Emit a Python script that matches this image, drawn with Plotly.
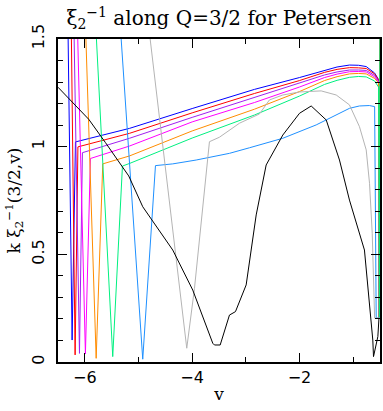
import plotly.graph_objects as go

blue_v = [-6.311, -6.237, -6.175, -5.167, -4.0, -2.839, -2.0, -1.534, -1.3, -1.069, -0.9, -0.757, -0.60, -0.527, -0.513, -0.502]
blue_y = [1.5, 0.102, 1.022, 1.085, 1.177, 1.266, 1.321, 1.356, 1.370, 1.379, 1.378, 1.372, 1.342, 1.312, 0.2, 1.6]

red_v = [-6.25, -6.181, -6.129, -5.167, -4.0, -2.839, -2.0, -1.534, -1.3, -1.069, -0.9, -0.757, -0.60, -0.527, -0.513, -0.502]
red_y = [1.5, 0.033, 0.999, 1.062, 1.157, 1.247, 1.307, 1.345, 1.359, 1.367, 1.366, 1.363, 1.338, 1.310, 0.2, 1.6]

purple_v = [-6.199, -6.10, -6.045, -5.167, -4.0, -2.839, -2.0, -1.534, -1.3, -1.069, -0.9, -0.757, -0.60, -0.527, -0.513, -0.502]
purple_y = [1.5, 0.040, 0.972, 1.039, 1.136, 1.229, 1.293, 1.333, 1.347, 1.356, 1.356, 1.354, 1.331, 1.305, 0.2, 1.6]

magenta_v = [-6.132, -5.989, -5.896, -5.167, -4.0, -2.839, -2.0, -1.534, -1.3, -1.069, -0.9, -0.757, -0.60, -0.527, -0.513, -0.502]
magenta_y = [1.5, 0.037, 0.945, 1.003, 1.115, 1.205, 1.277, 1.321, 1.337, 1.348, 1.349, 1.347, 1.324, 1.300, 0.2, 1.6]

orange_v = [-5.98, -5.789, -5.666, -5.167, -4.0, -2.839, -2.0, -1.534, -1.3, -1.069, -0.9, -0.757, -0.60, -0.527, -0.513, -0.502]
orange_y = [1.5, 0.017, 0.920, 0.957, 1.073, 1.174, 1.256, 1.307, 1.325, 1.338, 1.340, 1.338, 1.317, 1.296, 0.2, 1.6]

green_v = [-5.784, -5.48, -5.299, -5.167, -4.0, -2.839, -2.0, -1.534, -1.3, -1.069, -0.9, -0.757, -0.60, -0.527, -0.513, -0.502]
green_y = [1.5, 0.025, 0.910, 0.922, 1.040, 1.147, 1.235, 1.289, 1.308, 1.322, 1.326, 1.324, 1.305, 1.277, 0.2, 1.6]

dodger_v = [-5.323, -4.921, -4.684, -4.362, -3.925, -3.305, -2.93, -2.311, -1.689, -1.069, -0.884, -0.698, -0.60, -0.571, -0.5]
dodger_y = [1.5, 0.013, 0.912, 0.920, 0.938, 0.969, 0.995, 1.039, 1.101, 1.178, 1.189, 1.191, 1.186, 0.204, 0.204]

gray_v = [-4.783, -4.101, -3.957, -3.678, -3.491, -3.118, -2.746, -2.56, -2.311, -2.0, -1.596, -1.316, -1.069, -0.883, -0.757, -0.695, -0.645, -0.621, -0.60, -0.5]
gray_y = [1.5, 0.064, 0.342, 1.023, 1.044, 1.109, 1.152, 1.217, 1.240, 1.254, 1.259, 1.240, 1.194, 1.093, 0.985, 0.830, 0.598, 0.366, 0.204, 0.204]

black_v = [-6.5, -6.2, -5.927, -5.616, -5.182, -4.921, -4.362, -3.989, -3.616, -3.584, -3.478, -3.305, -3.193, -2.994, -2.807, -2.621,
           -2.311, -2.0, -1.782, -1.502, -1.255, -1.069, -0.790, -0.634, -0.621, -0.54, -0.52]
black_y = [1.276, 1.20, 1.127, 1.019, 0.864, 0.721, 0.520, 0.334, 0.087, 0.079, 0.079, 0.218, 0.234, 0.358, 0.683, 0.915,
           1.054, 1.155, 1.189, 1.124, 0.938, 0.752, 0.520, 0.102, 0.025, 0.118, 0.2]

series = [
    (blue_v, blue_y, "#0000ff"),
    (red_v, red_y, "#ff0000"),
    (purple_v, purple_y, "#a020f0"),
    (magenta_v, magenta_y, "#ff00ff"),
    (orange_v, orange_y, "#ff8c00"),
    (green_v, green_y, "#00f080"),
    (dodger_v, dodger_y, "#1e90ff"),
    (gray_v, gray_y, "#b4b4b4"),
    (black_v, black_y, "#000000"),
]

fig = go.Figure()
for v, y, col in series:
    fig.add_trace(go.Scatter(x=v, y=y, mode="lines", line=dict(color=col, width=1), hoverinfo="skip"))

serif = "DejaVu Serif"
sans = "DejaVu Sans"

fig.update_layout(
    width=383, height=411,
    margin=dict(l=58, r=3, t=39, b=49),
    plot_bgcolor="white", paper_bgcolor="white",
    showlegend=False,
    title=dict(text="ξ<sub>2</sub><sup>−1</sup> along Q=3/2 for Petersen",
               x=0.5, xref="paper", y=1 - 18 / 411, yanchor="middle",
               font=dict(family=serif, size=20, color="black")),
)
fig.update_xaxes(
    range=[-6.5, -0.5], tickvals=[-6, -4, -2], ticktext=["−6", "−4", "−2"],
    ticks="inside", ticklen=9, tickwidth=1, tickcolor="black",
    minor=dict(dtick=1, tick0=0, ticks="inside", ticklen=5, tickcolor="black"),
    showline=True, linecolor="black", linewidth=1.5, mirror="allticks",
    showgrid=False, zeroline=False, automargin=False,
    tickfont=dict(family=sans, size=16, color="black"),
    title=dict(text="v", font=dict(family=serif, size=17, color="black"), standoff=2),
)
fig.update_yaxes(
    range=[0, 1.5], tickvals=[0, 0.5, 1, 1.5], ticktext=["0", "0.5", "1", "1.5"],
    tickangle=-90,
    ticks="inside", ticklen=9, tickwidth=1, tickcolor="black",
    minor=dict(dtick=0.1, tick0=0, ticks="inside", ticklen=5, tickcolor="black"),
    showline=True, linecolor="black", linewidth=1.5, mirror="allticks",
    showgrid=False, zeroline=False, automargin=False,
    tickfont=dict(family=sans, size=16, color="black"),
    ticklabelstandoff=6,
    title=dict(text="k ξ<sub>2</sub><sup>−1</sup>(3/2,v)", font=dict(family=serif, size=17, color="black"), standoff=4),
)

fig.write_html("out.html", config={"displayModeBar": False},
               post_script="document.body.style.margin='0';")
